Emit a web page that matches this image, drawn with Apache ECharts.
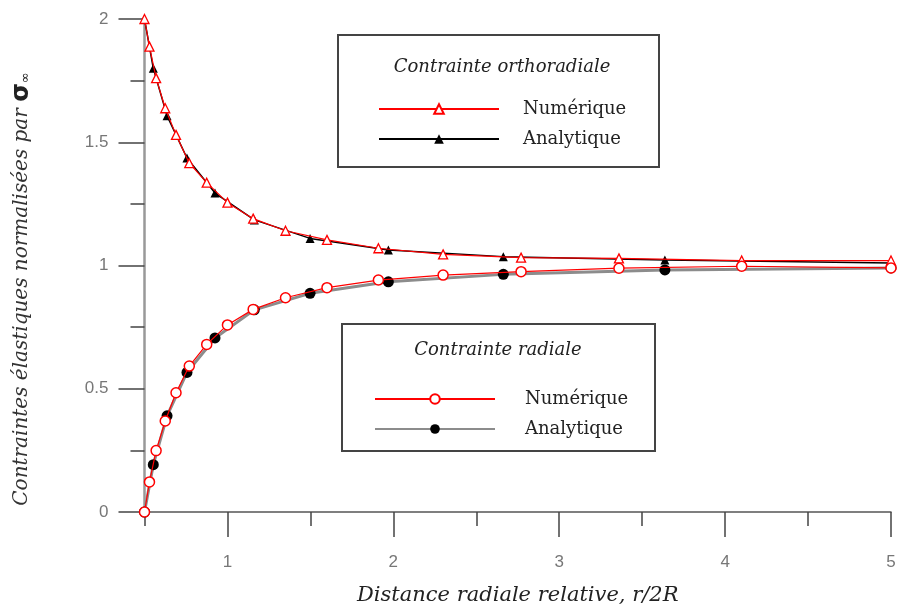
<!DOCTYPE html>
<html>
<head>
<meta charset="utf-8">
<script src="https://cdn.jsdelivr.net/npm/echarts@6/dist/echarts.min.js"></script>
<style>html,body{margin:0;padding:0;background:#fff;}#c{width:904px;height:615px;}</style>
</head>
<body>
<div id="c"></div>
<script>
const xTickLabels = [1, 2, 3, 4, 5];
const xMinorTicks = [0.5, 1.5, 2.5, 3.5, 4.5];
const yTickLabels = [0, 0.5, 1, 1.5, 2];

const numX = [0.5, 0.53, 0.57, 0.625, 0.69, 0.77, 0.875, 1.0, 1.155, 1.35, 1.6, 1.91, 2.3, 2.77, 3.36, 4.1, 5.0];
const numOrtho = [2.0, 1.888, 1.76, 1.638, 1.53, 1.415, 1.336, 1.255, 1.19, 1.141, 1.104, 1.07, 1.045, 1.032, 1.029, 1.02, 1.02];
const numRad = [0, 0.122, 0.249, 0.369, 0.484, 0.592, 0.68, 0.759, 0.822, 0.869, 0.91, 0.941, 0.961, 0.975, 0.989, 0.997, 0.99];

const anaX = [0.5, 0.553, 0.636, 0.756, 0.925, 1.162, 1.498, 1.97, 2.663, 3.637, 5.0];
const anaOrtho = [2.0, 1.80, 1.607, 1.436, 1.294, 1.185, 1.11, 1.063, 1.036, 1.022, 1.01];
const anaRad = [0, 0.192, 0.39, 0.566, 0.706, 0.82, 0.887, 0.934, 0.964, 0.982, 0.99];

const legendTitles = ['Contrainte orthoradiale', 'Contrainte radiale'];
const seriesNames = ['Numérique (ortho)', 'Analytique (ortho)', 'Numérique (radiale)', 'Analytique (radiale)'];
const xTitle = 'Distance radiale relative, r/2R';
const yTitle = 'Contraintes élastiques normalisées par ';

function pairs(xs, ys) { return xs.map((x, i) => [x, ys[i]]); }

const chart = echarts.init(document.getElementById('c'), null, {renderer: 'canvas'});

function legendText(padLeft) {
  return {fontFamily: 'DejaVu Serif', fontSize: 18, color: '#222', padding: [0, 0, 0, padLeft]};
}

chart.setOption({
  animation: false,
  backgroundColor: '#fff',
  grid: {left: 144.5, right: 13, top: 19, bottom: 103, containLabel: false, outerBoundsMode: 'none'},
  xAxis: [{
    type: 'value', min: 0.5, max: 5, position: 'bottom',
    name: xTitle, nameLocation: 'middle', nameGap: 73,
    nameTextStyle: {fontFamily: 'DejaVu Serif', fontStyle: 'italic', fontSize: 21, color: '#222'},
    axisLine: {lineStyle: {color: '#555', width: 1.5}},
    axisTick: {customValues: xTickLabels, length: 25, lineStyle: {color: '#444', width: 1.5}},
    axisLabel: {customValues: xTickLabels, margin: 42, color: '#777', fontSize: 17, fontFamily: 'Liberation Sans'},
    splitLine: {show: false}
  }, {
    type: 'value', min: 0.5, max: 5, position: 'bottom',
    axisLine: {show: false},
    axisTick: {customValues: xMinorTicks, length: 14, lineStyle: {color: '#444', width: 1.5}},
    axisLabel: {show: false},
    splitLine: {show: false}
  }],
  yAxis: {
    type: 'value', min: 0, max: 2, interval: 0.5,
    axisLine: {show: true, lineStyle: {color: '#999', width: 2.5}},
    axisTick: {show: true, length: 26, lineStyle: {color: '#444', width: 1.5}},
    minorTick: {show: true, splitNumber: 2, length: 14, lineStyle: {color: '#444', width: 1.5}},
    axisLabel: {margin: 36, color: '#777', fontSize: 17, fontFamily: 'Liberation Sans',
      customValues: yTickLabels},
    splitLine: {show: false}
  },
  legend: [{
    data: [seriesNames[0], seriesNames[1]],
    orient: 'vertical', left: 373, top: 95, itemWidth: 120, itemHeight: 12, itemGap: 12,
    selectedMode: false, textStyle: legendText(19),
    formatter: n => n.split(' (')[0]
  }, {
    data: [seriesNames[2], seriesNames[3]],
    orient: 'vertical', left: 369, top: 385, itemWidth: 120, itemHeight: 12, itemGap: 12,
    selectedMode: false, textStyle: legendText(25),
    formatter: n => n.split(' (')[0]
  }],
  graphic: [
    {type: 'rect', shape: {x: 338, y: 35, width: 321, height: 132}, style: {fill: 'none', stroke: '#444', lineWidth: 2}},
    {type: 'rect', shape: {x: 342, y: 324, width: 313, height: 127}, style: {fill: 'none', stroke: '#444', lineWidth: 2}},
    {type: 'text', x: 502, y: 67, style: {text: legendTitles[0], font: 'italic 18px "DejaVu Serif"', fill: '#222', align: 'center', verticalAlign: 'middle'}},
    {type: 'text', x: 498, y: 350, style: {text: legendTitles[1], font: 'italic 18px "DejaVu Serif"', fill: '#222', align: 'center', verticalAlign: 'middle'}},
    {type: 'text', x: 22, y: 289, rotation: Math.PI / 2,
      style: {
        text: '{a|' + yTitle + '}{s|σ}{i|∞}',
        align: 'center', verticalAlign: 'middle',
        rich: {
          a: {fontFamily: 'DejaVu Serif', fontStyle: 'italic', fontSize: 20, fill: '#333'},
          s: {fontFamily: 'DejaVu Sans', fontWeight: 'bold', fontSize: 24, fill: '#222'},
          i: {fontFamily: 'DejaVu Sans', fontSize: 13, fill: '#222', padding: [8, 0, 0, 0]}
        }
      }
    }
  ],
  series: [
    {
      name: seriesNames[1], type: 'line', data: pairs(anaX, anaOrtho),
      symbol: 'triangle', symbolSize: 9,
      lineStyle: {color: '#000', width: 1.5},
      itemStyle: {color: '#000'}, z: 2
    },
    {
      name: seriesNames[3], type: 'line', data: pairs(anaX, anaRad),
      symbol: 'circle', symbolSize: 11,
      lineStyle: {color: '#8c8c8c', width: 3},
      itemStyle: {color: '#000'}, z: 2
    },
    {
      name: seriesNames[0], type: 'line', data: pairs(numX, numOrtho),
      symbol: 'triangle', symbolSize: 9,
      lineStyle: {color: '#ff0000', width: 1.2},
      itemStyle: {color: '#fff', borderColor: '#ff0000', borderWidth: 1.3}, z: 3
    },
    {
      name: seriesNames[2], type: 'line', data: pairs(numX, numRad),
      symbol: 'circle', symbolSize: 10,
      lineStyle: {color: '#ff0000', width: 1.2},
      itemStyle: {color: '#fff', borderColor: '#ff0000', borderWidth: 1.5}, z: 3
    }
  ]
});
</script>
</body>
</html>
